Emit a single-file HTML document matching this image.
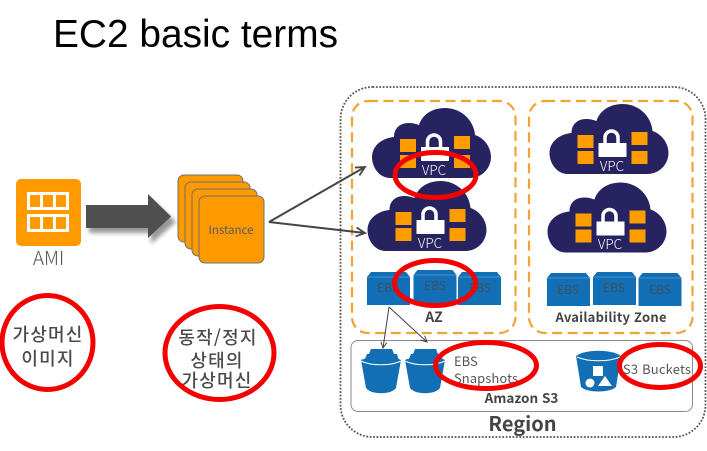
<!DOCTYPE html>
<html lang="ko">
<head>
<meta charset="utf-8">
<title>EC2 basic terms</title>
<style>
html,body{margin:0;padding:0;background:#fff;width:707px;height:451px;overflow:hidden}
svg{display:block}
text{font-family:"Noto Sans CJK KR","Liberation Sans",sans-serif}
.t{font-family:"Liberation Sans",sans-serif}
.vpc{fill:#fff;font-size:13.5px;text-anchor:middle;font-weight:300}
.ebs{fill:#3f4f60;font-size:12px;text-anchor:middle}
.lab{fill:#444;font-weight:700;text-anchor:middle}
.ko{fill:#4a4a4a;font-size:18px;font-weight:500;text-anchor:middle;letter-spacing:1.2px}
.red{fill:none;stroke:#f40000;stroke-width:5}
.soft{filter:blur(.35px)}
</style>
</head>
<body>
<svg width="707" height="451" viewBox="0 0 707 451" xmlns="http://www.w3.org/2000/svg">
<defs>
<g id="cloud">
<path d="M18,70C8,70 0,60 0,49C0,38 10,30 22,29C22,20 28,15 37,15C41,15 44,16 47,17C50,7 60,0 73,0C90,0 102,13 103,27C112,30 119,39 119,49C119,60 110,70 98,70Z" fill="#272361"/>
<rect x="28" y="31" width="16" height="13" fill="#ff9d00"/>
<rect x="28" y="47" width="16" height="13" fill="#ff9d00"/>
<rect x="82" y="28" width="16" height="13" fill="#ff9d00"/>
<rect x="82" y="47" width="16" height="13" fill="#ff9d00"/>
<path d="M55.5,40V33.5A6.5,6.5 0 0 1 68.500,33.500V40" fill="none" stroke="#fff" stroke-width="3.500"/>
<rect x="49" y="39" width="28" height="14" fill="#fff"/>
</g>
<g id="box">
<path d="M0,5L4,0H39L43,5V33H0Z" fill="#136fb5"/>
<path d="M0,5H43" stroke="#5a9fd6" stroke-width="0.700"/>
</g>
<g id="bucket">
<path d="M10,0H31L33,5H36L38,12H3L6,5H8Z" fill="#136fb5"/>
<path d="M0,11C8,7 32,7 40,11L35,39C30,46 10,46 5,39Z" fill="#136fb5"/>
<path d="M0,12C10,17 30,17 40,12" fill="none" stroke="#fff" stroke-width="1"/>
</g>
<marker id="ah" markerUnits="userSpaceOnUse" markerWidth="12" markerHeight="12" refX="10" refY="6" orient="auto">
<path d="M1,1.500L10,6L1,10.500" fill="none" stroke="#444" stroke-width="1.800"/>
</marker>
<marker id="ah2" markerUnits="userSpaceOnUse" markerWidth="10" markerHeight="10" refX="8" refY="5" orient="auto">
<path d="M2,2L8,5L2,8" fill="none" stroke="#444" stroke-width="1"/>
</marker>
<filter id="sh" x="-20%" y="-20%" width="140%" height="140%"><feGaussianBlur stdDeviation="2"/></filter>
</defs>

<text class="t" x="53" y="47" font-size="39" fill="#000" textLength="285" lengthAdjust="spacingAndGlyphs">EC2 basic terms</text>

<g class="soft">
<!-- AMI -->
<rect x="16" y="179" width="65" height="67" rx="5" fill="#ff9900"/>
<g fill="none" stroke="#fff" stroke-width="3">
<rect x="28.500" y="193.500" width="39" height="15"/>
<path d="M41.500,193.500v15M54.500,193.500v15"/>
<rect x="28.500" y="215.500" width="39" height="15"/>
<path d="M41.500,215.500v15M54.500,215.500v15"/>
</g>
<text x="48.500" y="265" font-size="19" fill="#555" text-anchor="middle" font-weight="300">AMI</text>

<!-- big arrow -->
<path d="M89,210H151V199L176,222L151,244V233H89Z" fill="#999" filter="url(#sh)"/>
<path d="M86,205H148V194L171,216.500L148,238V228H86Z" fill="#4f4f4f"/>

<!-- instance stack -->
<g fill="#ff9900" stroke="#6f6f6f" stroke-width="1">
<rect x="178" y="175" width="65" height="67" rx="6"/>
<rect x="185" y="182" width="65" height="67" rx="6"/>
<rect x="192" y="189" width="65" height="67" rx="6"/>
<rect x="199" y="196" width="65" height="67" rx="6"/>
</g>
<text x="231" y="234" font-size="11.500" fill="#5a5a5a" text-anchor="middle">Instance</text>

<!-- region -->
<rect x="340.500" y="87" width="365" height="350" rx="32" fill="none" stroke="#555" stroke-width="1.800" stroke-dasharray="1.800 1.600"/>

<!-- AZ boxes -->
<rect x="352" y="101" width="163.500" height="232" rx="16" fill="none" stroke="#f4a234" stroke-width="2.200" stroke-dasharray="10 5.500"/>
<rect x="529" y="101" width="163.500" height="232" rx="16" fill="none" stroke="#f4a234" stroke-width="2.200" stroke-dasharray="10 5.500"/>

<!-- S3 box -->
<rect x="351" y="340.500" width="341.500" height="71" rx="7" fill="#fff" stroke="#8a8a8a" stroke-width="1"/>

<!-- connectors to VPC -->
<path d="M269,222L365,167" fill="none" stroke="#444" stroke-width="2" marker-end="url(#ah)"/>
<path d="M269,222L365,233" fill="none" stroke="#444" stroke-width="2" marker-end="url(#ah)"/>

<!-- clouds -->
<use href="#cloud" x="372" y="108"/>
<text class="vpc" x="434" y="175">VPC</text>
<use href="#cloud" x="367.500" y="181"/>
<text class="vpc" x="430" y="248">VPC</text>
<use href="#cloud" x="549.500" y="104"/>
<text class="vpc" x="612" y="171">VPC</text>
<use href="#cloud" x="547.500" y="182.500"/>
<text class="vpc" x="610" y="249">VPC</text>

<!-- EBS volumes -->
<use href="#box" x="367" y="272"/>
<use href="#box" x="413.500" y="270"/>
<use href="#box" x="458" y="272"/>
<use href="#box" x="547" y="273"/>
<use href="#box" x="593" y="272"/>
<use href="#box" x="638.500" y="273"/>
<text class="ebs" x="388" y="292">EBS</text>
<text class="ebs" x="435" y="290">EBS</text>
<text class="ebs" x="480" y="292">EBS</text>
<text class="ebs" x="568" y="294">EBS</text>
<text class="ebs" x="614" y="292">EBS</text>
<text class="ebs" x="660" y="294">EBS</text>

<text class="lab" x="434" y="322" font-size="14">AZ</text>
<text class="lab" x="611" y="322" font-size="13" textLength="111" lengthAdjust="spacing">Availability Zone</text>

<!-- buckets -->
<use href="#bucket" x="361" y="349"/>
<use href="#bucket" x="405" y="349"/>
<path d="M576,356C585,349 612,349 621,356L616,387C610,393 587,393 581,387Z" fill="#136fb5"/>
<path d="M577,357C588,362 609,362 620,357" fill="none" stroke="#fff" stroke-width="1"/>
<rect x="593" y="366" width="10" height="10" fill="#fff"/>
<circle cx="590" cy="383" r="4.500" fill="#fff"/>
<path d="M605,376L612,386H598Z" fill="#fff"/>

<!-- snapshot arrows -->
<path d="M389,307L383,348" fill="none" stroke="#444" stroke-width="1" marker-end="url(#ah2)"/>
<path d="M389,307L427,342" fill="none" stroke="#444" stroke-width="1" marker-end="url(#ah2)"/>

<text x="454" y="366" font-size="13" fill="#555">EBS</text>
<text x="454" y="383" font-size="13" fill="#555" textLength="64" lengthAdjust="spacing">Snapshots</text>
<text x="623" y="374" font-size="13" fill="#555" textLength="68" lengthAdjust="spacing">S3 Buckets</text>
<text class="lab" x="521.500" y="403" font-size="13.500">Amazon S3</text>
<text class="lab" x="522.500" y="431" font-size="20">Region</text>

<!-- Korean labels -->
<text class="ko" x="48" y="341">가상머신</text>
<text class="ko" x="48" y="365">이미지</text>
<text class="ko" x="218" y="344">동작/정지</text>
<text class="ko" x="217" y="367">상태의</text>
<text class="ko" x="217" y="387">가상머신</text>

<!-- red highlight ellipses -->
<ellipse class="red" cx="435.500" cy="175" rx="40.500" ry="22.500"/>
<ellipse class="red" cx="435" cy="283" rx="40.500" ry="22.500"/>
<ellipse class="red" cx="486" cy="365.500" rx="50.500" ry="23"/>
<ellipse class="red" cx="660" cy="366" rx="40.500" ry="21.500"/>
<ellipse class="red" cx="47.500" cy="342.500" rx="45.500" ry="47"/>
<ellipse class="red" cx="219.500" cy="353" rx="54.500" ry="46.500"/>
</g>
</svg>
</body>
</html>
